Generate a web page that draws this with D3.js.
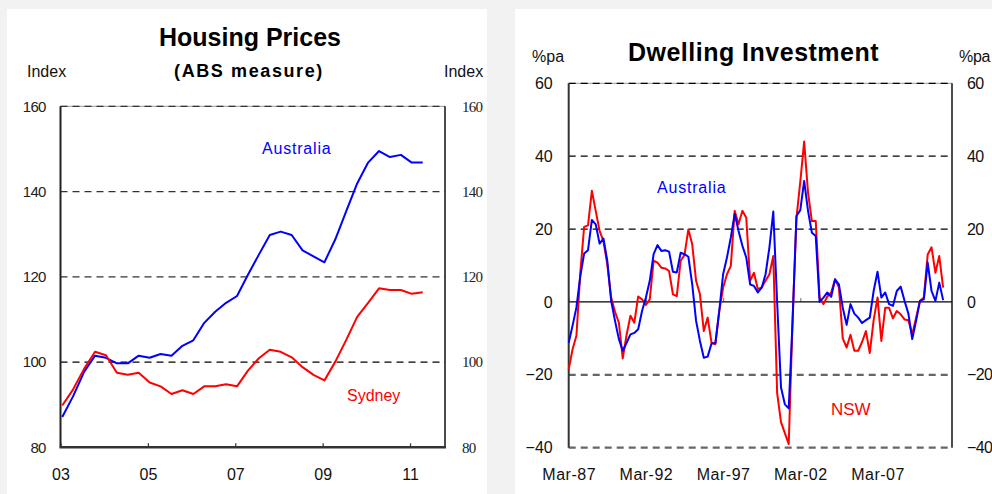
<!DOCTYPE html>
<html>
<head>
<meta charset="utf-8">
<script src="https://cdnjs.cloudflare.com/ajax/libs/d3/7.8.5/d3.min.js"></script>
<style>
    html, body { margin: 0; padding: 0; background: #f2f2f2; }
    svg { display: block; font-family: Arial, "Liberation Sans", sans-serif; }
</style>
</head>
<body>
<svg id="chart" width="992" height="494"></svg>
<script>
(function () {
    'use strict';

    // Housing prices, quarterly from Mar-03 (index)
    var hpAustralia = [87.1, 92.0, 97.7, 101.5, 101.0, 99.7, 99.7, 101.5, 101.0, 101.9, 101.5, 103.8,
        105.1, 109.2, 111.8, 113.9, 115.5, 120.5, 125.2, 129.8, 130.6, 129.8, 126.2, 124.8,
        123.4, 128.8, 135.4, 141.9, 146.8, 149.5, 148.1, 148.6, 146.8, 146.8];
    var hpSydney = [89.8, 93.6, 98.4, 102.4, 101.6, 97.5, 97.0, 97.5, 95.2, 94.3, 92.5, 93.4,
        92.5, 94.3, 94.3, 94.8, 94.3, 98.0, 100.9, 102.9, 102.4, 101.1, 98.8, 97.0,
        95.7, 100.1, 105.2, 110.6, 113.9, 117.3, 116.9, 116.9, 116.0, 116.4];
    var hpYTicks = [80, 100, 120, 140, 160];
    var hpXTicks = [2003, 2005, 2007, 2009, 2011];

    // Dwelling investment, year-ended growth, quarterly from Mar-87 (%pa)
    var diAustralia = [-11.2, -6.5, -1.5, 7, 13.3, 14.2, 22.5, 21.3, 16, 17.4, 11.3, 0.3,
        -5.2, -10.2, -13.4, -11.2, -8.9, -8.5, -7.5, -2.5, 1.2, 5.8, 13.1, 15.6,
        14, 14.2, 13.8, 8.3, 8.1, 13.5, 13.1, 12.4, 4.8, -5.2, -10.7, -15.3,
        -15, -11.4, -11.3, -2.5, 7.6, 12.2, 17.7, 24.2, 19.5, 15.4, 12.2, 4.8,
        4.4, 2.6, 3.9, 7.6, 15, 24.8, 0, -23.5, -28.1, -29.2, -5.2, 23.6,
        25.2, 33.2, 25, 19, 18.1, 0, 1.2, 2.6, 1.4, 6.2, 4.8, -1.6,
        -6.3, -0.6, -3.2, -4.3, -5.8, -5, -4.3, 3, 8.3, 1.2, 2.6, -0.6,
        -1.1, 3, 4.2, 0.3, -3.2, -10.2, -5.2, 0.3, 0.7, 10.8, 3, 0.3,
        5.3, 0.5];
    var diNSW = [-18.5, -13, -9.3, 8, 20.6, 21, 30.5, 25, 19.5, 16.7, 10.3, 1.2,
        -2.7, -5.7, -15.5, -9, -3.8, -5.7, 1.5, 0.7, -0.8, 0.7, 11.3, 10.8,
        9.4, 9.2, 8.5, 2.1, 1.6, 11.3, 12.9, 19.9, 15.8, 5.8, 2.1, -8,
        -4.3, -11.2, -11.6, -2.5, 3.9, 7.6, 9.9, 25, 21.3, 25, 23.1, 5.8,
        8, 3.5, 4, 5.8, 7.6, 12.6, -25, -33, -36, -39, -5, 23,
        33, 44, 30, 22.2, 22.2, 1.2, -0.6, 1.5, 2.6, 6.2, 4, -10,
        -12.5, -9, -13.4, -13.4, -11, -8, -14, -5, 1.2, -10.7, -1.6, -1.6,
        -4.5, -2.5, -3.4, -4.8, -5, -8.9, -4.3, 0.3, 1.2, 13, 15, 8,
        12.6, 3.9];
    var diYTicks = [-40, -20, 0, 20, 40, 60];
    var diXTickIndex = [0, 20, 40, 60, 80];
    var diXTickLabels = ["Mar-87", "Mar-92", "Mar-97", "Mar-02", "Mar-07"];

    var BLUE = "#0000ff",
        RED = "#ff0000",
        DASH = "7,5";

    var svg = d3.select("#chart");

    // white panels on grey page
    svg.append("rect").attr("x", 0).attr("y", 0).attr("width", 992).attr("height", 494).attr("fill", "#f2f2f2");
    svg.append("rect").attr("x", 7).attr("y", 9).attr("width", 480).attr("height", 485).attr("fill", "#fff");
    svg.append("rect").attr("x", 515).attr("y", 9).attr("width", 477).attr("height", 485).attr("fill", "#fff");

    // ---------------- Housing Prices ----------------
    var hp = {left: 60.5, right: 445, top: 106.3, bottom: 447.3};
    var xHp = d3.scaleLinear().domain([2003, 2011.8]).range([hp.left, hp.right]);
    var yHp = d3.scaleLinear().domain([80, 160]).range([hp.bottom, hp.top]);
    var hpG = svg.append("g");

    // quarter k sits a little after the year tick
    var hpX = function (d, i) { return xHp(2003.04 + i * 0.25); };

    hpG.append("line")
        .attr("x1", hp.left).attr("x2", hp.right)
        .attr("y1", hp.top).attr("y2", hp.top)
        .attr("stroke", "#999").attr("stroke-width", 1);

    hpG.selectAll(".grid")
        .data([100, 120, 140, 160])
        .enter()
        .append("line")
        .attr("x1", hp.left).attr("x2", hp.right)
        .attr("y1", function (d) { return yHp(d); })
        .attr("y2", function (d) { return yHp(d); })
        .attr("stroke", function (d) { return d === 100 ? "#000" : "#333"; })
        .attr("stroke-width", 1.3)
        .attr("stroke-dasharray", DASH);

    // left axis (labels only, line drawn separately)
    var hpLeft = hpG.append("g")
        .attr("transform", "translate(" + hp.left + ",0)")
        .call(d3.axisLeft(yHp).tickValues(hpYTicks).tickSize(0).tickPadding(15));
    hpLeft.select(".domain").remove();
    hpLeft.selectAll("text")
        .attr("font-family", "Arial, 'Liberation Sans', sans-serif")
        .attr("font-size", 15).attr("letter-spacing", -0.8).attr("fill", "#222");

    var hpRight = hpG.append("g")
        .attr("transform", "translate(" + hp.right + ",0)")
        .call(d3.axisRight(yHp).tickValues(hpYTicks).tickSize(0).tickPadding(17));
    hpRight.select(".domain").remove();
    hpRight.selectAll("text")
        .attr("font-family", "'Liberation Serif', 'Times New Roman', serif")
        .attr("font-size", 15).attr("letter-spacing", -0.8).attr("fill", "#222");

    var hpBottom = hpG.append("g")
        .attr("transform", "translate(0," + hp.bottom + ")")
        .call(d3.axisBottom(xHp).tickValues(hpXTicks).tickSize(-4).tickPadding(21)
            .tickFormat(function (d) { return String(d).slice(2); }));
    hpBottom.select(".domain").remove();
    hpBottom.selectAll("line").attr("stroke", "#333").attr("stroke-width", 1.2);
    hpBottom.selectAll("text")
        .attr("font-family", "Arial, 'Liberation Sans', sans-serif")
        .attr("font-size", 16).attr("fill", "#111");

    hpG.append("line")
        .attr("x1", hp.left).attr("x2", hp.left)
        .attr("y1", hp.top).attr("y2", hp.bottom)
        .attr("stroke", "#222").attr("stroke-width", 2);
    hpG.append("line")
        .attr("x1", hp.right).attr("x2", hp.right)
        .attr("y1", hp.top).attr("y2", hp.bottom)
        .attr("stroke", "#111").attr("stroke-width", 1.5);
    hpG.append("line")
        .attr("x1", hp.left - 1).attr("x2", hp.right + 1)
        .attr("y1", hp.bottom).attr("y2", hp.bottom)
        .attr("stroke", "#333").attr("stroke-width", 2.5);

    var hpLine = d3.line().x(hpX).y(function (d) { return yHp(d); });
    hpG.append("path").datum(hpAustralia)
        .attr("d", hpLine).attr("fill", "none")
        .attr("stroke", BLUE).attr("stroke-width", 2).attr("stroke-linejoin", "round");
    hpG.append("path").datum(hpSydney)
        .attr("d", hpLine).attr("fill", "none")
        .attr("stroke", RED).attr("stroke-width", 2).attr("stroke-linejoin", "round");

    hpG.append("text").text("Housing Prices")
        .attr("x", 250).attr("y", 46).attr("text-anchor", "middle")
        .attr("font-size", 25).attr("font-weight", "bold").attr("fill", "#000");
    hpG.append("text").text("(ABS measure)")
        .attr("x", 249).attr("y", 77).attr("text-anchor", "middle")
        .attr("font-size", 18).attr("letter-spacing", 1.6).attr("font-weight", "bold").attr("fill", "#000");
    hpG.append("text").text("Index")
        .attr("x", 27).attr("y", 77).attr("font-size", 16).attr("fill", "#111");
    hpG.append("text").text("Index")
        .attr("x", 444).attr("y", 77).attr("font-size", 16).attr("fill", "#111");
    hpG.append("text").text("Australia")
        .attr("x", 262).attr("y", 154).attr("font-size", 16).attr("letter-spacing", 0.8).attr("fill", BLUE);
    hpG.append("text").text("Sydney")
        .attr("x", 347).attr("y", 401).attr("font-size", 16).attr("fill", RED);

    // ---------------- Dwelling Investment ----------------
    var di = {left: 568.7, right: 952, top: 83.3, bottom: 447.7};
    var xDi = d3.scaleLinear().domain([0, 99.3]).range([di.left, di.right]);
    var yDi = d3.scaleLinear().domain([-40, 60]).range([di.bottom, di.top]);
    var diG = svg.append("g");

    diG.append("line")
        .attr("x1", di.left).attr("x2", di.right)
        .attr("y1", di.top).attr("y2", di.top)
        .attr("stroke", "#999").attr("stroke-width", 1);

    diG.selectAll(".grid")
        .data([-40, -20, 20, 40, 60])
        .enter()
        .append("line")
        .attr("x1", di.left).attr("x2", di.right)
        .attr("y1", function (d) { return yDi(d); })
        .attr("y2", function (d) { return yDi(d); })
        .attr("stroke", function (d) { return d < 0 ? "#666" : "#000"; })
        .attr("stroke-width", function (d) { return d < 0 ? 2.2 : 1.3; })
        .attr("stroke-dasharray", DASH);

    var diLeft = diG.append("g")
        .attr("transform", "translate(" + di.left + ",0)")
        .call(d3.axisLeft(yDi).tickValues(diYTicks).tickSize(0).tickPadding(16));
    diLeft.select(".domain").remove();
    diLeft.selectAll("text")
        .attr("font-family", "Arial, 'Liberation Sans', sans-serif")
        .attr("font-size", 16).attr("fill", "#111");

    // right labels run to the page edge, squeeze them a touch so they fit
    var diRight = diG.append("g")
        .attr("transform", "translate(" + di.right + ",0)")
        .call(d3.axisRight(yDi).tickValues(diYTicks).tickSize(0).tickPadding(15));
    diRight.select(".domain").remove();
    diRight.selectAll("text")
        .attr("font-family", "Arial, 'Liberation Sans', sans-serif")
        .attr("font-size", 16).attr("letter-spacing", -0.6).attr("fill", "#111");

    // labels along the bottom
    var diBottom = diG.append("g")
        .attr("transform", "translate(0," + di.bottom + ")")
        .call(d3.axisBottom(xDi).tickValues(diXTickIndex).tickSize(0).tickPadding(21)
            .tickFormat(function (d, i) { return diXTickLabels[i]; }));
    diBottom.select(".domain").remove();
    diBottom.selectAll("text")
        .attr("font-family", "Arial, 'Liberation Sans', sans-serif")
        .attr("font-size", 16).attr("letter-spacing", 0.5).attr("fill", "#111");

    // small ticks sit on the zero line
    var diZero = diG.append("g")
        .attr("transform", "translate(0," + yDi(0) + ")")
        .call(d3.axisBottom(xDi).tickValues(diXTickIndex).tickSize(-4).tickFormat(""));
    diZero.select(".domain").remove();
    diZero.selectAll("line").attr("stroke", "#888").attr("stroke-width", 1.2);

    diG.append("line")
        .attr("x1", di.left).attr("x2", di.right)
        .attr("y1", yDi(0)).attr("y2", yDi(0))
        .attr("stroke", "#000").attr("stroke-width", 1.2);
    diG.append("line")
        .attr("x1", di.left).attr("x2", di.left)
        .attr("y1", di.top).attr("y2", di.bottom)
        .attr("stroke", "#333").attr("stroke-width", 2);
    diG.append("line")
        .attr("x1", di.right).attr("x2", di.right)
        .attr("y1", di.top).attr("y2", di.bottom)
        .attr("stroke", "#111").attr("stroke-width", 1.5);

    var diLine = d3.line()
        .x(function (d, i) { return xDi(i); })
        .y(function (d) { return yDi(d); });
    diG.append("path").datum(diNSW)
        .attr("d", diLine).attr("fill", "none")
        .attr("stroke", RED).attr("stroke-width", 2).attr("stroke-linejoin", "round");
    diG.append("path").datum(diAustralia)
        .attr("d", diLine).attr("fill", "none")
        .attr("stroke", BLUE).attr("stroke-width", 2).attr("stroke-linejoin", "round");

    diG.append("text").text("Dwelling Investment")
        .attr("x", 753.5).attr("y", 61).attr("text-anchor", "middle")
        .attr("font-size", 25).attr("letter-spacing", 0.5).attr("font-weight", "bold").attr("fill", "#000");
    diG.append("text").text("%pa")
        .attr("x", 532).attr("y", 62).attr("font-size", 16).attr("fill", "#111");
    diG.append("text").text("%pa")
        .attr("x", 959).attr("y", 62).attr("font-size", 16).attr("letter-spacing", -0.3).attr("fill", "#111");
    diG.append("text").text("Australia")
        .attr("x", 657).attr("y", 193).attr("font-size", 16).attr("letter-spacing", 0.8).attr("fill", BLUE);
    diG.append("text").text("NSW")
        .attr("x", 831).attr("y", 415).attr("font-size", 17).attr("fill", RED);
})();
</script>
</body>
</html>
